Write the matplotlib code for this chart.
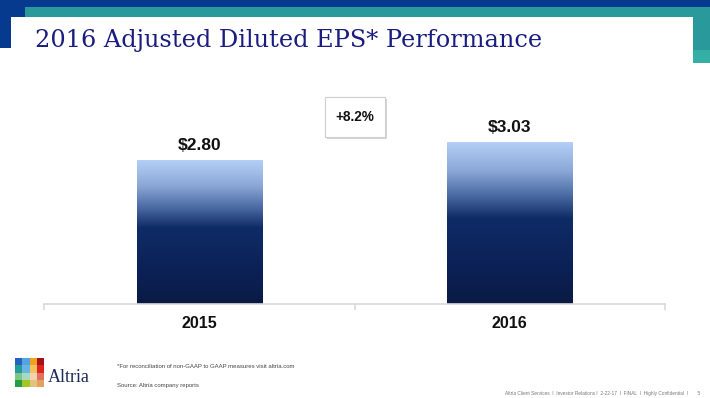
import matplotlib
matplotlib.use('Agg')
import matplotlib.pyplot as plt
import matplotlib.patches as mpatches
import matplotlib.patheffects as pe
from matplotlib.colors import LinearSegmentedColormap
import numpy as np

# Data
years = ['2015', '2016']
eps = [2.80, 3.03]
eps_labels = ['$2.80', '$3.03']
growth_label = '+8.2%'

W, H = 710, 398
fig = plt.figure(figsize=(W / 100, H / 100), dpi=100)
fig.patch.set_facecolor('white')


def rect(x, y, w, h, color, **kw):
    # rectangle given in pixel coords from top-left
    r = mpatches.Rectangle((x / W, 1 - (y + h) / H), w / W, h / H,
                           transform=fig.transFigure, facecolor=color,
                           edgecolor='none', **kw)
    fig.patches.append(r)
    return r


# Header bands
navy_band = '#063a8e'
teal = '#2a999c'
rect(0, 0, W, 7, navy_band)
rect(0, 0, 11, 48, navy_band)
rect(11, 7, 14, 10, navy_band)
rect(25, 7, W - 25, 10, teal)
rect(693, 17, 17, 33, teal)
rect(693, 50, 17, 13, '#35afa6')
fig.text(35 / W, 1 - 47 / H, '2016 Adjusted Diluted EPS* Performance',
         family='DejaVu Serif', fontsize=17.3, color='#1a1c80', va='baseline')

# Chart area
ax = fig.add_axes([44 / W, 1 - 304 / H, 621 / W, 224 / H])
ymin = 0.96
ymax = ymin + 224 / 78.26

cmap = LinearSegmentedColormap.from_list('bar', [
    (0.0, '#b3cff7'), (0.18, '#8aa6d6'), (0.33, '#4a6aa3'),
    (0.47, '#0f2b66'), (0.75, '#0c2257'), (1.0, '#0a1a44')])
grad = np.linspace(0, 1, 256).reshape(-1, 1)

bars = ax.bar(range(len(years)), eps, width=0.403, bottom=0,
              color='none', edgecolor='none')
for i, (b, v) in enumerate(zip(bars, eps)):
    x0 = b.get_x()
    im = ax.imshow(grad, cmap=cmap, aspect='auto',
                   extent=(x0, x0 + b.get_width(), ymin, v),
                   interpolation='bilinear', zorder=2)
    im.set_clip_path(b)
    ax.annotate(eps_labels[i], (i, v), xytext=(0, 5), textcoords='offset points',
                ha='center', va='bottom', family='Liberation Sans',
                fontweight='bold', fontsize=12.5, color='#111111')

ax.set_xlim(-0.5, len(years) - 0.5)
ax.set_ylim(ymin, ymax)
for s in ['top', 'right', 'left']:
    ax.spines[s].set_visible(False)
ax.spines['bottom'].set_color('#d9d9d9')
ax.spines['bottom'].set_linewidth(1.2)
ax.set_yticks([])
ax.set_xticks(range(len(years)))
ax.set_xticklabels(years, family='Liberation Sans', fontweight='bold',
                   fontsize=11.5, color='#111111')
ax.tick_params(axis='x', which='major', length=0, pad=9)
ax.set_xticks([-0.5, 0.5, 1.5], minor=True)
ax.tick_params(axis='x', which='minor', length=4, color='#d9d9d9', width=1.2)
ax.set_facecolor('none')

# Growth box with shadow
box = rect(325, 97, 60, 40, 'white', zorder=5)
box.set_edgecolor('#d0d0d0')
box.set_linewidth(0.8)
box.set_path_effects([pe.withSimplePatchShadow(offset=(1.5, -1.5),
                                               shadow_rgbFace='#a8a8a8', alpha=0.45),
                      pe.Normal()])
fig.text(355 / W, 1 - 117 / H, growth_label, ha='center', va='center',
         family='Liberation Sans', fontweight='bold', fontsize=9.8,
         color='#111111', zorder=6)

# Altria logo
logo = [['#2462c2', '#55a3e2', '#f0a11e', '#a3141a'],
        ['#1f9e9c', '#6bb3e0', '#f2c25e', '#e0231f'],
        ['#82c486', '#a6d8c2', '#f2d2b0', '#e2705e'],
        ['#23a043', '#a3c622', '#e2c27e', '#e2a25e']]
cell = 29 / 4
for r, row in enumerate(logo):
    for c, col in enumerate(row):
        rect(15 + c * cell, 358 + r * cell, cell + 0.3, cell + 0.3, col)
fig.text(48 / W, 1 - 382 / H, 'Altria', family='Liberation Serif',
         fontsize=13, color='#1b2a5c', va='baseline')

# Footnotes
fig.text(117 / W, 1 - 366 / H,
         '*For reconciliation of non-GAAP to GAAP measures visit altria.com',
         family='Liberation Sans', fontsize=4.3, color='#444444', va='center')
fig.text(117 / W, 1 - 385 / H, 'Source: Altria company reports',
         family='Liberation Sans', fontsize=4.3, color='#444444', va='center')
fig.text(700 / W, 1 - 394 / H,
         'Altria Client Services  I  Investor Relations I  2-22-17  I  FINAL  I  '
         'Highly Confidential  I       5',
         family='Liberation Sans', fontsize=3.4, color='#777777',
         ha='right', va='center')

fig.savefig('out.png', dpi=100)
